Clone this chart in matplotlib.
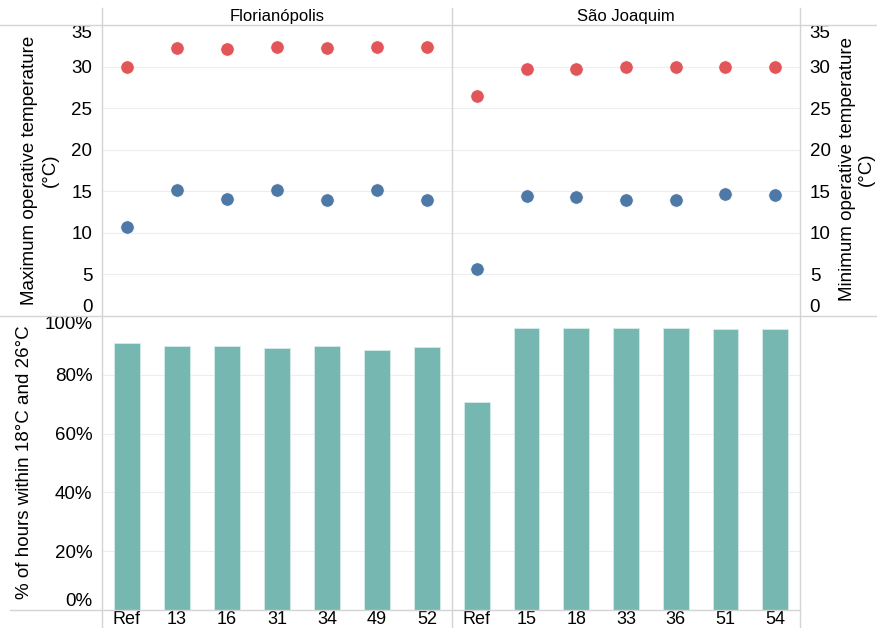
import matplotlib.pyplot as plt
from matplotlib.lines import Line2D
import numpy as np

plt.rcParams['font.family'] = ['Liberation Sans', 'DejaVu Sans']

# cases per city
flor_cases = ['Ref', '13', '16', '31', '34', '49', '52']
sj_cases = ['Ref', '15', '18', '33', '36', '51', '54']

# operative temperatures (°C)
flor_max = [30.0, 32.2, 32.1, 32.4, 32.2, 32.4, 32.4]
flor_min = [10.7, 15.1, 14.1, 15.1, 13.9, 15.2, 14.0]
sj_max = [26.5, 29.7, 29.7, 30.0, 30.0, 30.0, 30.0]
sj_min = [5.7, 14.4, 14.3, 14.0, 14.0, 14.7, 14.6]

# % of hours within 18°C and 26°C
flor_pct = [90.7, 89.7, 89.9, 89.2, 89.7, 88.5, 89.4]
sj_pct = [70.7, 96.0, 96.0, 95.8, 95.8, 95.5, 95.5]

temp_ticks = [0, 5, 10, 15, 20, 25, 30, 35]
pct_ticks = [0, 20, 40, 60, 80, 100]

W, H = 877, 628
RED, BLUE, TEAL = '#E15759', '#4E79A7', '#76B7B2'
LINE, GRID = '#d4d4d4', '#ededed'


def box(x0, y0, x1, y1):
    return [x0 / W, 1 - y1 / H, (x1 - x0) / W, (y1 - y0) / H]


def style(ax):
    for s in ax.spines.values():
        s.set_visible(False)
    ax.tick_params(length=0, labelsize=13.5)
    ax.grid(axis='y', color=GRID, lw=0.8)
    ax.set_axisbelow(True)


def edge_labels(ax):
    labels = ax.get_yticklabels()
    labels[0].set_va('bottom')
    labels[-1].set_va('top')


fig = plt.figure(figsize=(W / 100, H / 100), dpi=100)

panels = [
    ('Florianópolis', flor_cases, flor_max, flor_min, flor_pct, 102, 452, 'left'),
    ('São Joaquim', sj_cases, sj_max, sj_min, sj_pct, 452, 800, 'right'),
]

for name, cases, tmax, tmin, pct, x0, x1, side in panels:
    x = np.arange(len(cases))

    ax_t = fig.add_axes(box(x0, 25, x1, 316))
    style(ax_t)
    ax_t.scatter(x, tmax, s=95, color=RED, edgecolor='white', linewidth=0.6, zorder=3)
    ax_t.scatter(x, tmin, s=95, color=BLUE, edgecolor='white', linewidth=0.6, zorder=3)
    ax_t.set_xlim(-0.5, len(cases) - 0.5)
    ax_t.set_ylim(0, 35)
    ax_t.set_xticks([])
    ax_t.set_yticks(temp_ticks, [str(t) for t in temp_ticks])
    if side == 'right':
        ax_t.yaxis.tick_right()
    ax_t.tick_params(axis='y', pad=7)
    edge_labels(ax_t)

    ax_b = fig.add_axes(box(x0, 316, x1, 610))
    style(ax_b)
    ax_b.bar(x, pct, width=0.52, color=TEAL, edgecolor='#d5ebe9', linewidth=0.6, zorder=3)
    ax_b.set_xlim(-0.5, len(cases) - 0.5)
    ax_b.set_ylim(0, 100)
    ax_b.set_xticks(x, cases)
    ax_b.tick_params(axis='x', labelsize=13, pad=1)
    if side == 'left':
        ax_b.set_yticks(pct_ticks, [f'{p}%' for p in pct_ticks])
        ax_b.tick_params(axis='y', pad=7)
        edge_labels(ax_b)
    else:
        ax_b.set_yticks(pct_ticks, [''] * len(pct_ticks))

    fig.text((x0 + x1) / 2 / W, 1 - 16 / H, name, ha='center', va='center', fontsize=12)

# table borders
for y, xa, xb in [(25, 0, 877), (316, 0, 877), (610, 10, 800)]:
    fig.add_artist(Line2D([xa / W, xb / W], [1 - y / H] * 2, color=LINE, lw=1))
for xv, ya in [(102, 8), (452, 8), (800, 8)]:
    fig.add_artist(Line2D([xv / W] * 2, [1 - ya / H, 0], color=LINE, lw=1))

fig.text(40 / W, 1 - 170 / H, 'Maximum operative temperature\n(°C)', rotation=90,
         ha='center', va='center', multialignment='center', fontsize=13.5, linespacing=1.3)
fig.text(25 / W, 1 - 462 / H, '% of hours within 18°C and 26°C', rotation=90,
         ha='center', va='center', fontsize=13.5)
fig.text(857 / W, 1 - 169 / H, 'Minimum operative temperature\n(°C)', rotation=90,
         ha='center', va='center', multialignment='center', fontsize=13.5, linespacing=1.1)

fig.savefig('out.png', dpi=100)
